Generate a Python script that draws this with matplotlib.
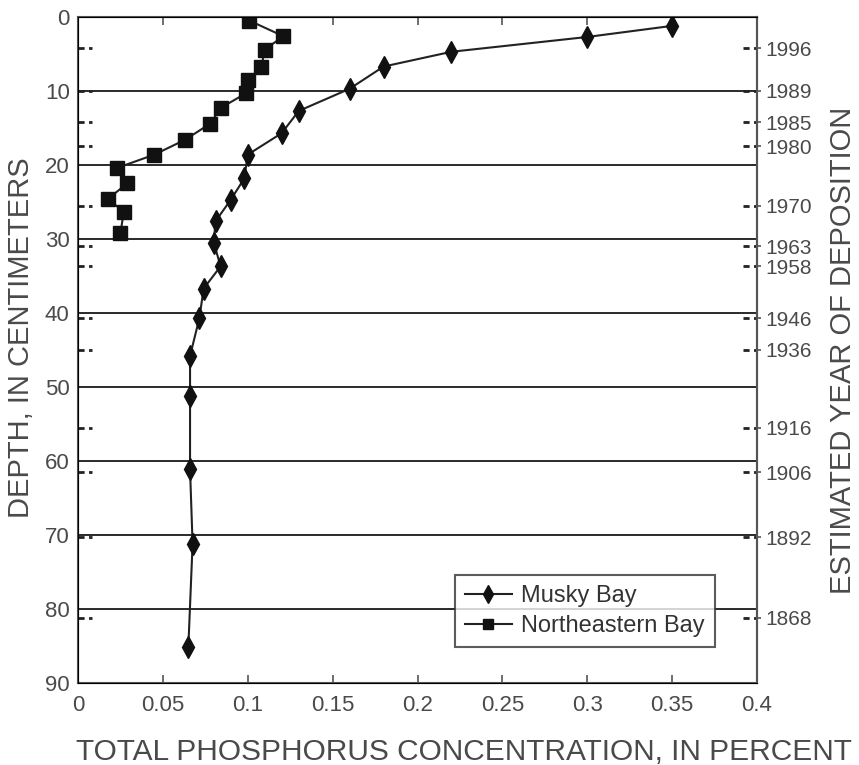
import matplotlib
matplotlib.use("Agg")
import matplotlib.pyplot as plt

plt.rcParams['font.family'] = ['Liberation Sans', 'DejaVu Sans']

# Musky Bay core: concentration (percent) vs depth (cm)
musky_conc = [0.35, 0.30, 0.22, 0.18, 0.16, 0.13, 0.12, 0.10, 0.098, 0.09, 0.081,
              0.080, 0.084, 0.074, 0.0715, 0.066, 0.066, 0.066, 0.0675, 0.065]
musky_depth = [1.2, 2.7, 4.7, 6.7, 9.7, 12.7, 15.7, 18.6, 21.8, 24.7, 27.6,
               30.5, 33.7, 36.7, 40.7, 45.8, 51.2, 61.1, 71.2, 85.1]

# Northeastern Bay core
ne_conc = [0.101, 0.121, 0.110, 0.108, 0.100, 0.099, 0.084, 0.078, 0.063, 0.045,
           0.023, 0.029, 0.0175, 0.027, 0.025]
ne_depth = [0.5, 2.6, 4.4, 6.8, 8.5, 10.3, 12.3, 14.4, 16.6, 18.6,
            20.4, 22.5, 24.6, 26.3, 29.2]

# estimated year of deposition at depth
year_depth = [4.2, 10.0, 14.2, 17.5, 25.5, 31.0, 33.7, 40.7, 45.0, 55.5, 61.5, 70.3, 81.2]
year_labels = ['1996', '1989', '1985', '1980', '1970', '1963', '1958', '1946',
               '1936', '1916', '1906', '1892', '1868']

grid_depths = [10, 20, 30, 40, 50, 60, 70, 80]
x_ticks = [0, 0.05, 0.1, 0.15, 0.2, 0.25, 0.3, 0.35, 0.4]
x_ticklabels = ['0', '0.05', '0.1', '0.15', '0.2', '0.25', '0.3', '0.35', '0.4']

txt = '#4a4a4a'
fig = plt.figure(figsize=(8.59, 7.65), dpi=100)
ax = fig.add_axes([0.0908, 0.1072, 0.7905, 0.8706])

for d in grid_depths:
    ax.axhline(d, color='#2a2a2a', lw=1.4, zorder=1)

# short dashed year marks on both sides
ax.hlines(year_depth, 0, 0.008, colors='#222222', lw=2, linestyles=(0, (2.2, 1.6)), zorder=2)
ax.hlines(year_depth, 0.392, 0.4, colors='#222222', lw=2, linestyles=(0, (2.2, 1.6)), zorder=2)

ax.plot(musky_conc, musky_depth, color='#222222', lw=1.5, marker='d', ms=11,
        mfc='#111111', mec='#111111', label='Musky Bay', zorder=3)
ax.plot(ne_conc, ne_depth, color='#222222', lw=1.5, marker='s', ms=9.5,
        mfc='#111111', mec='#111111', label='Northeastern Bay', zorder=3)

ax.set_xlim(0, 0.4)
ax.set_ylim(90, 0)
ax.set_xticks(x_ticks)
ax.set_xticklabels(x_ticklabels)
ax.set_yticks(range(0, 100, 10))
ax.tick_params(axis='x', direction='in', top=True, length=6, width=1.2,
               colors='#555555', labelcolor=txt, labelsize=16, pad=9)
ax.tick_params(axis='y', length=0, labelcolor=txt, labelsize=16, pad=6)
for s in ax.spines.values():
    s.set_color('#555555')
    s.set_linewidth(1.5)

ax.set_xlabel('TOTAL PHOSPHORUS CONCENTRATION, IN PERCENT', fontsize=21.5,
              color=txt, labelpad=16)
ax.xaxis.set_label_coords(0.568, -0.083)
ax.set_ylabel('DEPTH, IN CENTIMETERS', fontsize=21, color=txt, labelpad=6)
ax.yaxis.set_label_coords(-0.064, 0.518)

ax2 = ax.twinx()
ax2.set_ylim(90, 0)
ax2.set_yticks(year_depth)
ax2.set_yticklabels(year_labels)
ax2.tick_params(axis='y', direction='out', length=3, width=1.2, colors='#555555',
                labelcolor=txt, labelsize=15, pad=3)
ax2.spines['right'].set_color('#555555')
ax2.spines['right'].set_linewidth(1.5)
ax2.set_ylabel('ESTIMATED YEAR OF DEPOSITION', fontsize=21, color=txt, labelpad=12)

leg = ax.legend(loc='lower right', bbox_to_anchor=(0.938, 0.054), borderaxespad=0,
                fontsize=17, frameon=True, fancybox=False, handlelength=2.0,
                labelspacing=0.35, borderpad=0.42, handletextpad=0.4, markerscale=0.8)
leg.get_frame().set_edgecolor('#333333')
leg.get_frame().set_linewidth(1.5)
leg.set_zorder(5)
for t in leg.get_texts():
    t.set_color('#333333')

fig.savefig('out.png', dpi=100)
